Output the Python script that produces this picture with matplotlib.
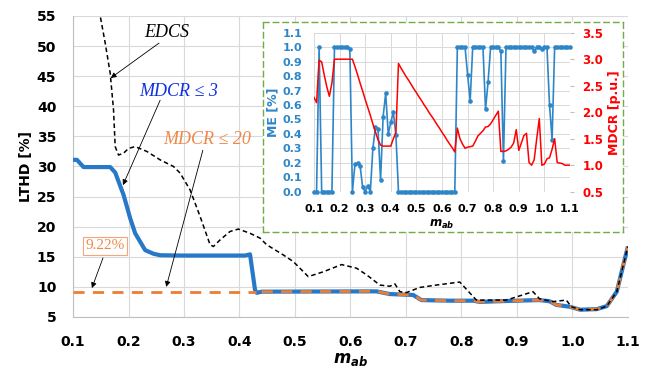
import matplotlib
matplotlib.use("Agg")
import matplotlib.pyplot as plt
import numpy as np

plt.rcParams['font.family'] = 'DejaVu Sans'
plt.rcParams['mathtext.fontset'] = 'custom'
plt.rcParams['mathtext.it'] = 'DejaVu Sans:italic:bold'
plt.rcParams['mathtext.rm'] = 'DejaVu Sans:bold'

# --- main chart: LTHD vs m_ab ---
edcs_m = [0.147, 0.158, 0.167, 0.173, 0.176, 0.182, 0.191, 0.200, 0.212, 0.233,
          0.257, 0.281, 0.293, 0.311, 0.329, 0.347, 0.353, 0.365, 0.383, 0.398,
          0.419, 0.437, 0.449, 0.479, 0.497, 0.524, 0.551, 0.584, 0.611, 0.629,
          0.653, 0.671, 0.680, 0.689, 0.701, 0.725, 0.755, 0.797, 0.827, 0.881,
          0.929, 0.941, 0.965, 0.989, 0.998, 1.014, 1.044, 1.062, 1.080, 1.100]
edcs_v = [56.0, 50.5, 45.5, 39.4, 33.3, 31.9, 32.2, 33.0, 33.3, 32.5,
          31.1, 30.0, 28.9, 26.1, 21.7, 17.0, 16.7, 17.8, 19.2, 19.6,
          18.9, 18.1, 17.0, 15.3, 14.2, 11.7, 12.5, 13.7, 13.1, 12.0,
          10.3, 10.1, 10.5, 9.2, 9.05, 9.9, 10.3, 10.8, 7.8, 7.8,
          9.2, 8.0, 7.55, 7.8, 6.7, 6.2, 6.2, 6.8, 9.2, 16.7]

# MDCR <= 3 before the step at 0.43
mdcr3_head_m = [0.100, 0.107, 0.119, 0.167, 0.176, 0.191, 0.203, 0.212, 0.221,
                0.230, 0.245, 0.257, 0.300, 0.410, 0.419, 0.428, 0.431]
mdcr3_head_v = [31.1, 31.1, 29.9, 29.9, 29.0, 25.3, 21.4, 18.9, 17.5,
                16.1, 15.5, 15.25, 15.2, 15.2, 15.4, 9.5, 9.0]

# both MDCR limits give the same curve from 0.43 on
tail_m = [0.440, 0.647, 0.671, 0.713, 0.728, 0.779, 0.821, 0.833, 0.881, 0.941,
          0.959, 0.971, 0.995, 1.014, 1.044, 1.062, 1.080, 1.100]
tail_v = [9.2, 9.25, 8.8, 8.65, 7.8, 7.7, 7.7, 7.5, 7.65, 7.8,
          7.6, 7.0, 6.7, 6.2, 6.3, 6.8, 9.2, 16.7]

mdcr20_head_m = [0.100, 0.430]
mdcr20_head_v = [9.22, 9.22]

# --- inset: ME and MDCR vs m_ab (step 0.01) ---
inset_m = np.round(np.arange(0.10, 1.105, 0.01), 2)
me_vals = [0, 0, 1.0, 0, 0, 0, 0, 0, 1.0, 1.0,
           1.0, 1.0, 1.0, 1.0, 0.99, 0, 0.19, 0.20, 0.18, 0.03,
           0, 0.04, 0, 0.30, 0.445, 0.435, 0.08, 0.52, 0.68, 0.40,
           0.48, 0.55, 0.39, 0, 0, 0, 0, 0, 0, 0,
           0, 0, 0, 0, 0, 0, 0, 0, 0, 0,
           0, 0, 0, 0, 0, 0, 1.0, 1.0, 1.0, 1.0,
           0.81, 0.63, 1.0, 1.0, 1.0, 1.0, 1.0, 0.57, 0.76, 1.0,
           1.0, 1.0, 1.0, 0.97, 0.21, 1.0, 1.0, 1.0, 1.0, 1.0,
           1.0, 1.0, 1.0, 1.0, 1.0, 1.0, 0.97, 1.0, 1.0, 0.99,
           1.0, 1.0, 0.60, 0.36, 1.0, 1.0, 1.0, 1.0, 1.0, 1.0,
           1.0]
mdcr_vals = [2.28, 2.18, 2.98, 2.95, 2.70, 2.48, 2.30, 2.55, 3.0, 3.0,
             3.0, 3.0, 3.0, 3.0, 3.0, 3.0, 2.86, 2.71, 2.55, 2.40,
             2.24, 2.09, 1.94, 1.78, 1.63, 1.48, 1.38, 1.36, 1.36, 1.36,
             1.36, 1.50, 1.62, 2.92, 2.83, 2.75, 2.67, 2.60, 2.52, 2.44,
             2.37, 2.29, 2.22, 2.14, 2.07, 1.99, 1.92, 1.85, 1.77, 1.70,
             1.62, 1.55, 1.47, 1.40, 1.33, 1.25, 1.70, 1.50, 1.40, 1.32,
             1.34, 1.35, 1.36, 1.45, 1.55, 1.60, 1.65, 1.72, 1.73, 1.78,
             1.86, 1.94, 2.02, 1.26, 1.26, 1.27, 1.30, 1.34, 1.42, 1.67,
             1.28, 1.42, 1.56, 1.60, 1.05, 1.0, 1.10, 1.50, 1.88, 1.0,
             1.02, 1.12, 1.14, 1.30, 1.50, 1.05, 1.04, 1.03, 1.0, 1.0,
             1.0]

blue = '#2878C8'
orange = '#ED7D31'
me_blue = '#2E86C8'
grid_c = '#D9D9D9'

fig = plt.figure(figsize=(6.52, 3.72), dpi=100)
ax = fig.add_axes([0.112, 0.148, 0.851, 0.809])

ax.plot(mdcr3_head_m + tail_m, mdcr3_head_v + tail_v, color=blue, lw=3.0,
        solid_capstyle='butt', zorder=3)
ax.plot(mdcr20_head_m, mdcr20_head_v, color=orange, lw=2.0, dashes=(4, 3), zorder=4)
ax.plot(tail_m, tail_v, color=orange, lw=2.0, dashes=(4, 3), zorder=4)
ax.plot(edcs_m, edcs_v, color='black', lw=1.1, dashes=(3, 2), zorder=5)

ax.set_xlim(0.1, 1.1)
ax.set_ylim(5, 55)
ax.set_xticks(np.arange(0.1, 1.15, 0.1))
ax.set_xticklabels(['%.1f' % v for v in np.arange(0.1, 1.15, 0.1)])
ax.set_yticks(range(5, 56, 5))
ax.tick_params(length=0, labelsize=10)
ax.tick_params(axis='x', pad=13)
ax.tick_params(axis='y', pad=12)
for lbl in ax.get_xticklabels() + ax.get_yticklabels():
    lbl.set_fontweight('bold')
ax.grid(True, color=grid_c, lw=0.8)
ax.set_axisbelow(True)
for s in ['top', 'right']:
    ax.spines[s].set_visible(False)
for s in ['left', 'bottom']:
    ax.spines[s].set_color('#BFBFBF')
ax.set_ylabel('LTHD [%]', fontsize=10, fontweight='bold', labelpad=3)
ax.set_xlabel(r'$m_{ab}$', fontsize=12, labelpad=1)

# annotations
arrow = dict(arrowstyle='-|>', color='black', lw=0.6, mutation_scale=8,
             shrinkA=0, shrinkB=0)
serif = 'Liberation Serif'
ax.text(0.269, 52.3, 'EDCS', family=serif, style='italic', fontsize=13,
        ha='center', va='center')
ax.annotate('', xy=(0.168, 44.7), xytext=(0.255, 50.5), arrowprops=arrow)
ax.text(0.291, 42.4, r'MDCR ≤ 3', family=serif, style='italic', fontsize=13,
        color='#1030E0', ha='center', va='center')
ax.annotate('', xy=(0.190, 26.9), xytext=(0.257, 41.0), arrowprops=arrow)
ax.text(0.341, 34.4, r'MDCR ≤ 20', family=serif, style='italic', fontsize=13,
        color='#F08848', ha='center', va='center')
ax.annotate('', xy=(0.268, 10.0), xytext=(0.334, 32.7), arrowprops=arrow)
ax.text(0.158, 16.8, '9.22%', family=serif, fontsize=11, color='#F08848',
        ha='center', va='center',
        bbox=dict(boxstyle='square,pad=0.15', fc='white', ec='#F4A57A', lw=0.8))
ax.annotate('', xy=(0.134, 9.8), xytext=(0.154, 14.8), arrowprops=arrow)

# inset frame
box = fig.add_axes([263 / 652, 1 - 232 / 372, 360 / 652, 210 / 372])
box.set_xticks([])
box.set_yticks([])
box.set_facecolor('white')
for s in box.spines.values():
    s.set_color('#70AD47')
    s.set_linestyle((0, (4, 3)))
    s.set_linewidth(1.0)
box.set_zorder(5)

ins = fig.add_axes([314 / 652, 1 - 191.7 / 372, 256 / 652, 159 / 372])
ins.set_zorder(6)
ins.patch.set_alpha(0)
ins.plot(inset_m, me_vals, color=me_blue, lw=1.2, marker='o', ms=2.3,
         clip_on=False, zorder=3)
ins.set_xlim(0.1, 1.1)
ins.set_ylim(0, 1.1)
ins.set_xticks(np.arange(0.1, 1.15, 0.1))
ins.set_xticklabels(['%.1f' % v for v in np.arange(0.1, 1.15, 0.1)])
ins.set_yticks(np.arange(0, 1.15, 0.1))
ins.set_yticklabels(['%.1f' % v for v in np.arange(0, 1.15, 0.1)])
ins.tick_params(length=0, labelsize=8)
ins.tick_params(axis='y', colors=me_blue, pad=8.5)
ins.tick_params(axis='x', colors='black', pad=8.5)
for lbl in ins.get_xticklabels() + ins.get_yticklabels():
    lbl.set_fontweight('bold')
ins.grid(True, color=grid_c, lw=0.7)
ins.set_axisbelow(True)
for s in ins.spines.values():
    s.set_visible(False)
ins.set_ylabel('ME [%]', color=me_blue, fontsize=9, fontweight='bold', labelpad=2)
ins.set_xlabel(r'$m_{ab}$', fontsize=8.5, labelpad=3)

ins2 = ins.twinx()
ins2.plot(inset_m, mdcr_vals, color='#FF0000', lw=1.1, zorder=4)
ins2.set_ylim(0.5, 3.5)
ins2.set_yticks(np.arange(0.5, 3.55, 0.5))
ins2.set_yticklabels(['%.1f' % v for v in np.arange(0.5, 3.55, 0.5)])
ins2.tick_params(axis='y', length=3, color='#BFBFBF', labelcolor='#FF0000',
                 labelsize=8.5, pad=6)
for lbl in ins2.get_yticklabels():
    lbl.set_fontweight('bold')
for s in ins2.spines.values():
    s.set_visible(False)
ins2.set_ylabel('MDCR [p.u.]', color='#FF0000', fontsize=9, fontweight='bold',
                labelpad=3)

fig.savefig('out.png', dpi=100)
